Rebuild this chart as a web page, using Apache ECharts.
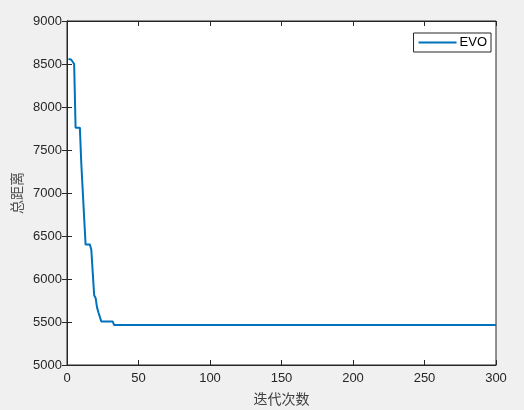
<!DOCTYPE html>
<html><head><meta charset="utf-8">
<script src="https://cdn.jsdelivr.net/npm/echarts@6/dist/echarts.min.js"></script>
<style>html,body{margin:0;padding:0;background:#f0f0f0}#c{width:524px;height:410px}</style>
</head><body><div id="c"></div>
<script>
var iterations = [1, 3, 5, 6, 9, 10, 11, 13, 16, 17, 18, 19, 20, 21, 22, 23, 24, 32, 33, 300];
var distances = [8560, 8550, 8500, 7760, 7760, 7340, 7320, 6400, 6400, 6340, 6320, 5810, 5780, 5670, 5610, 5590, 5505, 5505, 5465, 5465];
var seriesName = 'EVO';
var xTitle = '迭代次数';
var yTitle = '总距离';

var pts = iterations.map(function (x, i) { return [x, distances[i]]; });
var ink = '#262626';
var plain = function (v) { return String(v); };
var lbl = { color: ink, fontFamily: 'Liberation Sans, Arial, sans-serif', fontSize: 13, formatter: plain };
var chart = echarts.init(document.getElementById('c'), null, { renderer: 'canvas' });
chart.setOption({
  backgroundColor: '#f0f0f0',
  animation: false,
  grid: { left: 67, right: 28, top: 21, bottom: 45, containLabel: false, outerBoundsMode: 'none', show: true, backgroundColor: '#ffffff', borderColor: ink, borderWidth: 1 },
  legend: {
    right: 33, top: 33, orient: 'vertical',
    data: [{ name: seriesName, icon: 'rect' }],
    itemWidth: 38, itemHeight: 2, itemGap: 4,
    backgroundColor: '#ffffff', borderColor: ink, borderWidth: 1, borderRadius: 0,
    padding: [3, 4, 3, 5],
    textStyle: { color: '#000', fontFamily: 'Liberation Sans, Arial, sans-serif', fontSize: 13, padding: [0, 0, 0, -2] }
  },
  xAxis: [{
    type: 'value', min: 0, max: 300, interval: 50,
    name: xTitle, nameLocation: 'middle', nameGap: 27,
    nameTextStyle: { color: '#404040', fontFamily: 'Noto Sans CJK SC', fontSize: 14 },
    axisLine: { show: true, lineStyle: { color: ink } },
    axisTick: { inside: true, length: 5, lineStyle: { color: ink } },
    axisLabel: Object.assign({ margin: 7 }, lbl),
    splitLine: { show: false }
  }, {
    type: 'value', position: 'top', min: 0, max: 300, interval: 50,
    axisLine: { show: true, lineStyle: { color: ink } },
    axisTick: { inside: true, length: 5, lineStyle: { color: ink } },
    axisLabel: { show: false }, splitLine: { show: false }
  }],
  yAxis: [{
    type: 'value', min: 5000, max: 9000, interval: 500,
    name: yTitle, nameLocation: 'middle', nameGap: 43, nameRotate: 90, nameMoveOverlap: false,
    nameTextStyle: { color: '#505050', fontFamily: 'Noto Sans CJK SC', fontSize: 14 },
    axisLine: { show: true, lineStyle: { color: ink } },
    axisTick: { inside: true, length: 5, lineStyle: { color: ink } },
    axisLabel: Object.assign({ margin: 5 }, lbl),
    splitLine: { show: false }
  }, {
    type: 'value', position: 'right', min: 5000, max: 9000, interval: 500,
    axisLine: { show: true, lineStyle: { color: ink } },
    axisTick: { inside: true, length: 5, lineStyle: { color: ink } },
    axisLabel: { show: false }, splitLine: { show: false }
  }],
  series: [{
    name: seriesName, type: 'line', data: pts, xAxisIndex: 0, yAxisIndex: 0,
    showSymbol: false, symbol: 'none',
    lineStyle: { color: '#0072BD', width: 2 },
    itemStyle: { color: '#0072BD' }
  }]
});
</script></body></html>
